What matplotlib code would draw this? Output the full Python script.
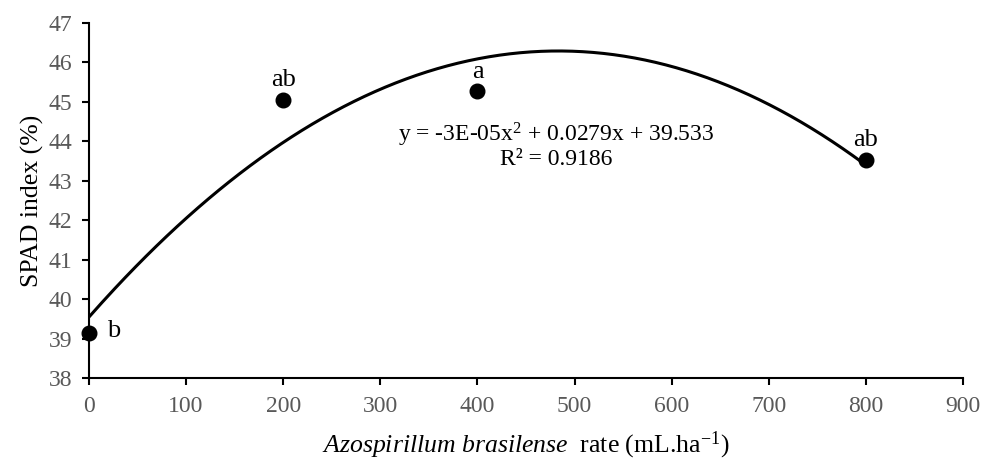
import numpy as np
import matplotlib
matplotlib.use("Agg")
import matplotlib.pyplot as plt

plt.rcParams['font.family'] = ['Liberation Serif', 'DejaVu Serif']
plt.rcParams['mathtext.fontset'] = 'custom'
plt.rcParams['mathtext.rm'] = 'Liberation Serif'
plt.rcParams['mathtext.it'] = 'Liberation Serif:italic'

# Data
rates = [0, 200, 400, 800]
spad = [39.14, 45.05, 45.28, 43.53]
letters = ['b', 'ab', 'a', 'ab']
x_ticks = [0, 100, 200, 300, 400, 500, 600, 700, 800, 900]
y_ticks = [38, 39, 40, 41, 42, 43, 44, 45, 46, 47]
equation = 'y = -3E-05x$^{2}$ + 0.0279x + 39.533'
r2_text = 'R² = 0.9186'

fig = plt.figure(figsize=(9.83, 4.59), dpi=100)
ax = fig.add_axes([0.0905, 0.1765, 0.8892, 0.7735])

coef = np.polyfit(rates, spad, 2)
xs = np.linspace(0, 800, 300)
ax.plot(xs, np.polyval(coef, xs), color='black', lw=2.2, zorder=2)
ax.plot(rates, spad, 'o', color='black', markersize=10.5, zorder=3, clip_on=False)

offsets = [(13, -3, 'left', 'baseline'), (0, 10, 'center', 'baseline'),
           (0, 9.5, 'center', 'baseline'), (0, 10, 'center', 'baseline')]
for xv, yv, lab, (dx, dy, ha, va) in zip(rates, spad, letters, offsets):
    ax.annotate(lab, (xv, yv), xytext=(dx, dy), textcoords='offset points',
                ha=ha, va=va, fontsize=19)

ax.text(481, 44.17, equation, ha='center', va='center', fontsize=17)
ax.text(481, 43.55, r2_text, ha='center', va='center', fontsize=17)

ax.set_xlim(0, 900)
ax.set_ylim(38, 47)
ax.set_xticks(x_ticks)
ax.set_yticks(y_ticks)
ax.tick_params(direction='out', length=5, width=1.5, labelsize=17,
               labelcolor='#595959')
ax.tick_params(axis='x', pad=8)
ax.tick_params(axis='y', pad=7)
for s in ['top', 'right']:
    ax.spines[s].set_visible(False)
for s in ['left', 'bottom']:
    ax.spines[s].set_linewidth(1.5)

ax.set_ylabel('SPAD index (%)', fontsize=18.5, labelpad=3)
ax.set_xlabel(r'$\mathit{Azospirillum\ brasilense}$  rate (mL.ha$^{\mathrm{-1}}$)',
              fontsize=18.5, labelpad=9)

fig.savefig('out.png', dpi=100)
